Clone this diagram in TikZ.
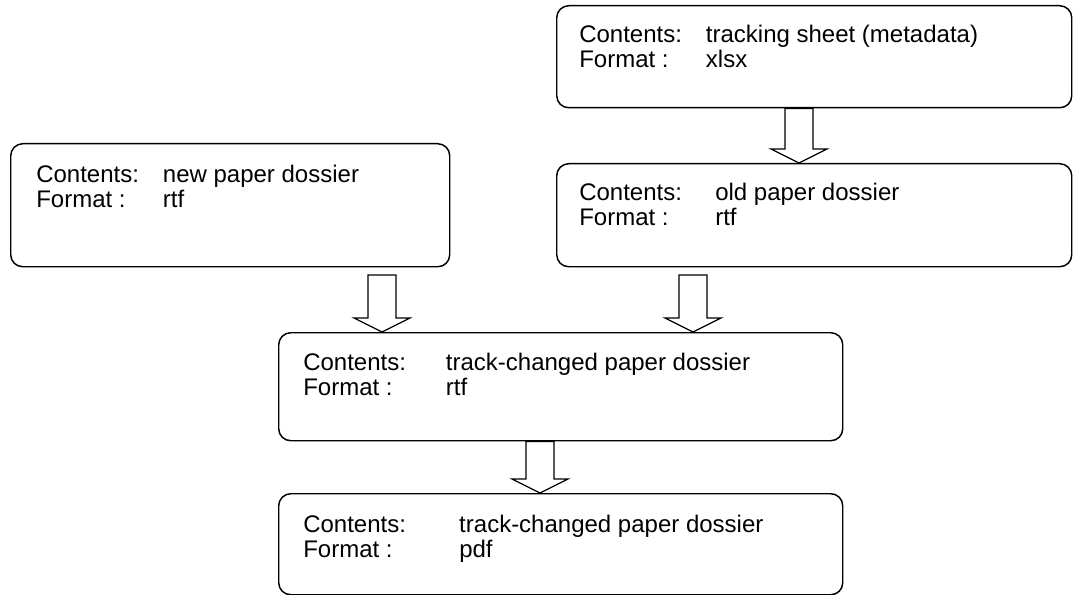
\documentclass[tikz,border=0pt]{standalone}
\usepackage{fontspec}
\setmainfont{Liberation Sans}
\usetikzlibrary{calc}
\newcommand{\dossier}[3]{\begin{tabular}[t]{@{}p{#1}@{}l@{}}Contents: & #2\\ Format : & #3\end{tabular}}
\newcommand{\hollowdown}[2]{\draw[hollow] let \p1=(#1),\p2=(#2) in
  (\x1-10.5pt,\y1)--(\x1-10.5pt,\y2+10.5pt)--(\x1-21pt,\y2+10.5pt)--(\x2,\y2)
  --(\x1+21pt,\y2+10.5pt)--(\x1+10.5pt,\y2+10.5pt)--(\x1+10.5pt,\y1)--cycle;}

\begin{document}
\begin{tikzpicture}[x=0.75pt,y=-0.75pt,
  box/.style={draw,rounded corners=9pt,line width=1.1pt,inner sep=0,anchor=north west},
  txt/.style={anchor=base west,inner sep=0,font=\fontsize{18}{18.75}\selectfont},
  hollow/.style={draw,line width=0.9pt,fill=white}]
\useasboundingbox (0,0) rectangle (1073,595);
\node[box,minimum width=515*0.75pt,minimum height=102*0.75pt] (tracking) at (556,5) {};
\node[box,minimum width=515*0.75pt,minimum height=103*0.75pt] (old) at (556,163) {};
\node[box,minimum width=439*0.75pt,minimum height=123*0.75pt] (new) at (10,143) {};
\node[box,minimum width=564*0.75pt,minimum height=108*0.75pt] (changed) at (278,332) {};
\node[box,minimum width=564*0.75pt,minimum height=101*0.75pt] (final) at (278,493) {};
\node[txt] at ([shift={(23,38)}]tracking.north west) {\dossier{95pt}{tracking sheet (metadata)}{xlsx}};
\node[txt] at ([shift={(23,38)}]old.north west) {\dossier{102pt}{old paper dossier}{rtf}};
\node[txt] at ([shift={(26,40)}]new.north west) {\dossier{95pt}{new paper dossier}{rtf}};
\node[txt] at ([shift={(25,38)}]changed.north west) {\dossier{107pt}{track-changed paper dossier}{rtf}};
\node[txt] at ([shift={(25,39)}]final.north west) {\dossier{117pt}{track-changed paper dossier}{pdf}};
\coordinate (a1) at (799,0);
\coordinate (a2) at (382,275);
\coordinate (a3) at (693,275);
\coordinate (a4) at (540,0);
\hollowdown{a1 |- tracking.south}{a1 |- old.north}
\hollowdown{a2}{a2 |- changed.north}
\hollowdown{a3}{a3 |- changed.north}
\hollowdown{a4 |- changed.south}{a4 |- final.north}
\end{tikzpicture}
\end{document}
